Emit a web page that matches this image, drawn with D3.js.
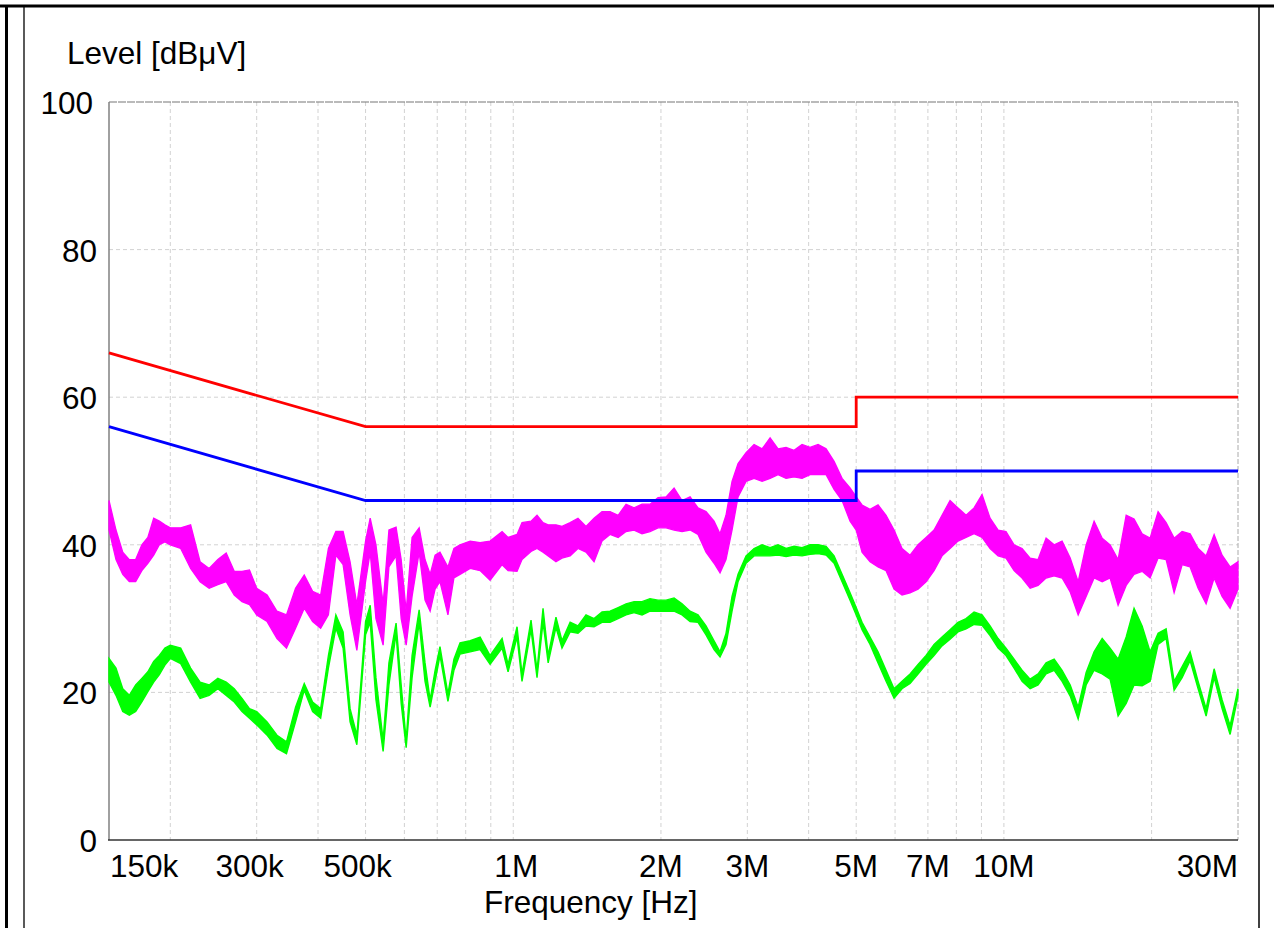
<!DOCTYPE html>
<html><head><meta charset="utf-8">
<script src="https://cdn.jsdelivr.net/npm/d3@7"></script>
<style>
body{margin:0;background:#fff;}
svg{display:block;font-family:"Liberation Sans",Arial,sans-serif;}
</style>
</head><body>
<svg id="chart" width="1274" height="928"></svg>
<script>
// ---------- data ----------
const freqMHz = [
0.150,0.155,0.160,0.165,0.170,0.175,0.180,0.185,0.190,0.195,0.200,0.210,0.220,0.230,0.240,0.250,0.260,0.270,0.280,0.290,
0.300,0.315,0.330,0.345,0.360,0.375,0.390,0.405,0.420,0.435,0.450,0.465,0.480,0.500,
0.511,0.525,0.543,0.558,0.577,0.591,0.605,0.622,0.643,0.661,0.677,0.693,0.709,0.736,0.757,0.779,0.817,0.856,0.897,0.949,0.976,
1.018,1.042,1.087,1.118,1.150,1.178,1.222,1.257,1.306,1.355,1.407,1.461,1.517,1.575,1.636,1.698,1.763,1.830,1.900,1.973,
2.049,2.127,2.208,2.293,2.380,2.471,2.566,2.639,2.714,2.792,2.872,2.982,3.096,3.215,3.338,3.465,3.598,3.735,3.878,4.027,
4.181,4.341,4.507,4.679,4.858,5.000,5.139,5.336,5.540,5.752,5.972,6.200,6.438,6.684,6.940,7.205,7.480,7.767,8.063,8.374,
8.694,9.026,9.372,9.732,10.10,10.49,10.89,11.31,11.74,12.19,12.66,13.14,13.65,14.17,14.71,15.27,15.86,16.46,17.09,17.75,
18.42,19.13,19.86,20.62,21.41,22.23,23.08,23.96,24.88,25.83,26.82,27.84,28.91,30.00
];
const peakHi = [
46,42,39,38,38,40,41,43.6,43.2,42.7,42.3,42.3,42.7,37.7,36.8,38,38.9,36.4,36.4,36.6,
34.1,33.2,31,30.5,34.1,35.9,33.7,33.2,39.5,41.8,41.8,37.7,31.9,40.5,
43.6,40,32,42,42.4,38,31,41,42.3,38,36,38.6,39,37,39.5,40,40.5,40.3,40.5,41.8,41,
41.4,43,43.2,44,43,42.7,42.7,42.5,43,43.6,42.5,43.6,44.5,44.5,44,45.5,45,45.5,45.5,46.4,
46.5,47.7,46,46.5,45,44.5,43.2,41.5,44,48.6,51,52.5,53.6,53,54.5,53,53.2,52.8,53.6,53.2,
53.6,53,51.3,49,47.7,46.5,45.4,44.8,45.4,44,42,39.5,38.6,40,41,42,44,46,45,44,
45,46.8,43.6,42,41.8,40,39.5,38.2,38,40.9,40,40.5,38.2,35,40,43.2,40.9,40,38,44,
43.5,41.5,40.9,44.5,43,40.9,41.8,41.5,39.5,38.5,41.4,38.6,37,37.7
];
const peakLo = [
42,38,36,35,35,36.5,37.5,38.6,40,40.4,40,39.5,36.8,35,34.1,34.6,35,33.2,32.3,31.9,
30.5,29.6,27.3,26,28.7,31.4,29.6,28.7,30.5,38.6,37.3,30.5,25.7,35,
39,30,26.4,37,38.5,30,26.4,33,39,32.5,31,34,35,30.5,35.5,36,36.8,36.5,35.2,37.3,36.5,
36.4,38,39.1,39.5,39,38.5,37.7,38.2,38.5,39.5,39,37.7,40.5,41.4,41,41.8,42,41.5,41.8,42.3,
42.3,42,41.8,42,41.4,39,37.5,36.2,38,42,46.5,48.6,49,48.6,49,49.5,49,49.2,49,49.5,
49.5,49.5,47.5,46,43.2,42,39,37.7,37,36.5,34,33.2,33.5,34,35,36.5,38.5,39.5,40.5,41,
41.5,41,39.5,38.5,38.2,36.5,35.5,34.1,34.5,35.5,35.8,35.5,33.6,30.5,33,35.5,35,35.5,31.8,34.5,
36,36.4,35.5,38.2,38,33.5,37.3,37,34.1,32,35.5,33,31.4,34
];
const avgHi = [
24.6,23.3,20.5,19.6,21,21.9,22.8,24.2,25,26,26.4,26,23.3,21.4,21,21.9,21.4,20.5,19.2,17.8,
17.4,16,14.2,13.3,18,21.2,18.7,17.8,25,30.5,28.2,17.8,14.2,29.6,
31.8,22,13.5,24,29.4,21,13.5,25,31.2,24,19,23,26.2,19.8,24.5,26.7,27,27.5,25,27.3,23.8,
28.9,22.5,29.8,23,31.4,25,30.2,27,29.5,29,30.5,30,30.9,31,31.5,32,32.3,32.3,32.7,32.5,
32.5,32.8,32,31,30.5,29,27,25.5,28,33,36,38.5,39.5,40,39.6,40,39.5,39.8,39.6,40,
40,39.8,38.5,36,33.5,31.5,29.5,27.5,25.5,23,20.5,21.5,22.5,23.8,25,26.5,27.5,28.5,29.5,30,
30.9,30.5,29,27.3,26,24.5,23,21.8,22.5,24,24.5,23,21,18,22.7,25.5,27.3,26,24.5,27.5,
31.4,29,25.5,28,28.6,21.5,23.5,25.5,21.5,17.8,23.2,19,15.5,20.5
];
const avgLo = [
21.4,19.6,17.4,16.9,17.4,18.7,20.1,21.4,22.4,23.7,24.6,23.9,21.4,19.2,19.6,20.5,19.6,18.7,17.4,16.5,
15.6,14.2,12.4,11.7,16,20.3,17.4,16.5,23.3,28.7,26,16,12.9,27.8,
29.5,19,12,21,28,18.5,12.5,22,29.5,21.5,18,21.5,25,18.8,23,25.2,25.5,25.8,23.8,26,22.8,
27.5,21.5,28.5,22,29.5,24,28.8,26,28.2,28,29,28.9,29.5,29.5,30,30.5,30.8,30.5,31,31,
31,31,30.5,29.6,29.5,27.8,25.8,24.8,26.5,31,35,37.5,38.5,38.5,38.5,38.6,38.4,38.6,38.5,38.7,
38.8,38.6,37.5,35,32.5,30.5,28.5,26.5,24,21.5,19.2,20.5,21.2,22.5,23.8,25,26.3,27.2,28.2,28.6,
29.2,29.1,27.7,26,25,23.3,21.5,20.5,21,22.5,23,21.5,19.5,16.4,21,23,22.5,21.8,16.8,18.5,
21,20.9,21.5,26.5,27.3,20.3,22,24.3,20.5,16.8,22,17.8,14.3,19.5
];
const limitFreq = [0.15, 0.5, 5, 5, 30];
const qpLimit   = [66, 56, 56, 60, 60];
const avLimit   = [56, 46, 46, 50, 50];
const yTicks = [0, 20, 40, 60, 80, 100];
const gridFreqs = [0.2,0.3,0.4,0.5,0.6,0.7,0.8,0.9,1,2,3,4,5,6,7,8,9,10,20];
const xTickFreqs  = [0.15, 0.3, 0.5, 1, 2, 3, 5, 7, 10, 30];
const xTickLabels = ["150k","300k","500k","1M","2M","3M","5M","7M","10M","30M"];

// ---------- drawing ----------
const svg = d3.select("#chart");
const x = d3.scaleLog().domain([0.15, 30]).range([109, 1238]);
const y = d3.scaleLinear().domain([0, 100]).range([840, 102]);
const FS = 31.5;

// frame
const frame = svg.append("g").attr("stroke", "#000").attr("fill", "none");
frame.append("line").attr("x1", 0).attr("x2", 1274).attr("y1", 6).attr("y2", 6).attr("stroke-width", 3);
frame.append("line").attr("x1", 6.5).attr("x2", 6.5).attr("y1", 5).attr("y2", 928).attr("stroke-width", 3);
frame.append("line").attr("x1", 24).attr("x2", 24).attr("y1", 6).attr("y2", 928).attr("stroke-width", 1.3);
frame.append("line").attr("x1", 1259).attr("x2", 1259).attr("y1", 6).attr("y2", 928).attr("stroke-width", 1.5);

// grid
const grid = svg.append("g");
grid.selectAll(".vg").data(gridFreqs).join("line")
  .attr("x1", d => x(d)).attr("x2", d => x(d)).attr("y1", y(100)).attr("y2", y(0))
  .attr("stroke", "#d2d2d2").attr("stroke-width", 1).attr("stroke-dasharray", "4,3");
grid.selectAll(".hg").data(yTicks.filter(v => v > 0 && v < 100)).join("line")
  .attr("x1", x(0.15)).attr("x2", x(30)).attr("y1", d => y(d)).attr("y2", d => y(d))
  .attr("stroke", "#d2d2d2").attr("stroke-width", 1).attr("stroke-dasharray", "4,3");
grid.append("line").attr("x1", x(0.15)).attr("x2", x(30)).attr("y1", y(100)).attr("y2", y(100))
  .attr("stroke", "#777").attr("stroke-width", 1.2).attr("stroke-dasharray", "8,1");
grid.append("line").attr("x1", x(30)).attr("x2", x(30)).attr("y1", y(100)).attr("y2", y(0))
  .attr("stroke", "#aaa").attr("stroke-width", 1).attr("stroke-dasharray", "5,2");

// axes lines
svg.append("line").attr("x1", x(0.15)).attr("x2", x(0.15)).attr("y1", y(100)).attr("y2", y(0))
  .attr("stroke", "#808080").attr("stroke-width", 1.5);
svg.append("line").attr("x1", x(0.15) - 1).attr("x2", x(30)).attr("y1", y(0)).attr("y2", y(0))
  .attr("stroke", "#333").attr("stroke-width", 1.5);

// traces
const idx = d3.range(freqMHz.length);
function band(hi, lo) {
  return d3.area().x(i => x(freqMHz[i])).y0(i => y(lo[i])).y1(i => y(hi[i]));
}
svg.append("path").datum(idx).attr("d", band(peakHi, peakLo))
  .attr("fill", "#ff00ff").attr("stroke", "#ff00ff").attr("stroke-width", 1.3).attr("stroke-linejoin", "miter");
svg.append("path").datum(idx).attr("d", band(avgHi, avgLo))
  .attr("fill", "#00ff00").attr("stroke", "#00ff00").attr("stroke-width", 1.4).attr("stroke-linejoin", "miter");

// limits
const lidx = d3.range(limitFreq.length);
svg.append("path").datum(lidx).attr("d", d3.line().x(i => x(limitFreq[i])).y(i => y(qpLimit[i])))
  .attr("fill", "none").attr("stroke", "#ff0000").attr("stroke-width", 2.8);
svg.append("path").datum(lidx).attr("d", d3.line().x(i => x(limitFreq[i])).y(i => y(avLimit[i])))
  .attr("fill", "none").attr("stroke", "#0000ff").attr("stroke-width", 2.8);

// y labels
svg.selectAll(".yl").data(yTicks).join("text")
  .attr("x", d => d === 100 ? 93 : 97).attr("y", d => y(d) + 12).attr("text-anchor", "end")
  .attr("font-size", FS).attr("fill", "#000").text(d => d);

// x labels
const nudge = {"300k": -7, "500k": -8, "1M": 3};
svg.selectAll(".xl").data(xTickFreqs).join("text")
  .attr("x", (d, i) => x(d) + (i === 0 ? 1 : (nudge[xTickLabels[i]] || 0)))
  .attr("y", 877)
  .attr("text-anchor", (d, i) => i === 0 ? "start" : (i === xTickFreqs.length - 1 ? "end" : "middle"))
  .attr("font-size", FS).attr("fill", "#000").text((d, i) => xTickLabels[i]);

// titles
svg.append("text").attr("x", 67).attr("y", 64).attr("font-size", FS).attr("fill", "#000").text("Level [dBμV]");
svg.append("text").attr("x", 484).attr("y", 913).attr("font-size", FS).attr("fill", "#000").text("Frequency [Hz]");
</script>
</body></html>
